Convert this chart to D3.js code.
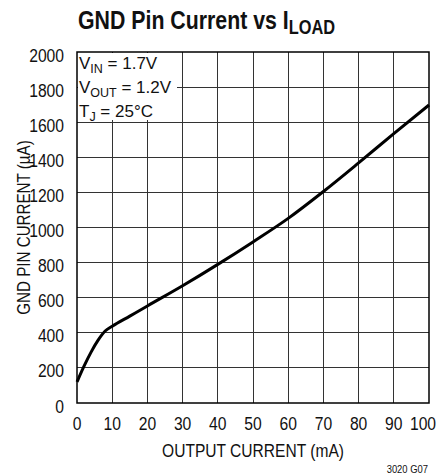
<!DOCTYPE html>
<html>
<head>
<meta charset="utf-8">
<script src="https://cdn.jsdelivr.net/npm/d3@7"></script>
<style>
  body { margin: 0; background: #fff; }
  text { font-family: "Liberation Sans", Arial, sans-serif; fill: #111; }
</style>
</head>
<body>
<div id="chart"></div>
<script>
// output current (mA) vs GND pin current (uA)
const loadCurrent = [0, 2, 4, 6, 8, 10, 15, 20, 30, 40, 50, 60, 70, 80, 90, 100];
const gndCurrent = [120, 210, 290, 358, 410, 437, 495, 553, 668, 790, 918, 1052, 1205, 1368, 1535, 1698];

const xTicks = [0, 10, 20, 30, 40, 50, 60, 70, 80, 90, 100];
const yTicks = [0, 200, 400, 600, 800, 1000, 1200, 1400, 1600, 1800, 2000];

const conditions = [
  ['V', 'IN', ' = 1.7V'],
  ['V', 'OUT', ' = 1.2V'],
  ['T', 'J', ' = 25°C']
];

const WIDTH = 445, HEIGHT = 475;
const LEFT = 77, RIGHT = 429, TOP = 52, BOTTOM = 403;
const NARROW = 0.82; // no narrow face installed, squeeze the regular one

const svg = d3.select('#chart').append('svg')
  .attr('width', WIDTH)
  .attr('height', HEIGHT);

const x = d3.scaleLinear().domain([0, 100]).range([LEFT, RIGHT]);
const y = d3.scaleLinear().domain([0, 2000]).range([BOTTOM, TOP]);

const label = (parent, px, py, size, anchor, rot, sx) => parent.append('text')
  .attr('transform', 'translate(' + px + ',' + py + ')' + (rot ? ' rotate(' + rot + ')' : '') + ' scale(' + (sx || NARROW) + ',1)')
  .attr('text-anchor', anchor || 'start')
  .attr('font-size', size);

// grid
const grid = svg.append('g').attr('class', 'grid')
  .attr('stroke', '#333').attr('stroke-width', 1).attr('shape-rendering', 'crispEdges');

grid.selectAll('.vline').data(xTicks.slice(1, -1)).enter()
  .append('line')
  .attr('x1', d => x(d)).attr('x2', d => x(d))
  .attr('y1', TOP).attr('y2', BOTTOM);

grid.selectAll('.hline').data(yTicks.slice(1, -1)).enter()
  .append('line')
  .attr('y1', d => y(d)).attr('y2', d => y(d))
  .attr('x1', LEFT).attr('x2', RIGHT);

// white box behind the test conditions
svg.append('rect')
  .attr('x', LEFT + 1).attr('y', TOP + 1)
  .attr('width', 99).attr('height', 67)
  .attr('fill', '#fff');

// frame
svg.append('rect')
  .attr('x', LEFT).attr('y', TOP)
  .attr('width', RIGHT - LEFT).attr('height', BOTTOM - TOP)
  .attr('fill', 'none').attr('stroke', '#000').attr('stroke-width', 1.5);

// curve
const line = d3.line()
  .x((d, i) => x(loadCurrent[i]))
  .y(d => y(d))
  .curve(d3.curveMonotoneX);

svg.append('path')
  .datum(gndCurrent)
  .attr('fill', 'none')
  .attr('stroke', '#000')
  .attr('stroke-width', 3)
  .attr('stroke-linejoin', 'round')
  .attr('d', line);

// tick labels (last one nudged left to stay near the frame)
const xLabels = svg.append('g');
xTicks.forEach((d, i) => {
  const last = i === xTicks.length - 1;
  label(xLabels, last ? x(d) - 6 : x(d), BOTTOM + 27, 18, 'middle', 0, 0.87).text(d);
});

const yLabels = svg.append('g');
yTicks.forEach(d => label(yLabels, LEFT - 13, y(d) + 9.5, 18, 'end', 0, 0.87).text(d));

// axis titles
label(svg, (LEFT + RIGHT) / 2, 457, 19, 'middle').text('OUTPUT CURRENT (mA)');
label(svg, 30, (TOP + BOTTOM) / 2, 18.5, 'middle', -90).text('GND PIN CURRENT (µA)');

// title
const title = label(svg, 78, 29, 26).attr('font-weight', 'bold');
title.append('tspan').text('GND Pin Current vs I');
title.append('tspan').attr('font-size', 20).attr('dy', 5).text('LOAD');

// test conditions
conditions.forEach((c, i) => {
  const t = label(svg, 79, 69 + i * 24, 17, 'start', 0, 1);
  t.append('tspan').text(c[0]);
  t.append('tspan').attr('font-size', 12.5).attr('dy', 4).text(c[1]);
  t.append('tspan').attr('dy', -4).text(c[2]);
});

// figure code
label(svg, 428, 473, 11.5, 'end').text('3020 G07');
</script>
</body>
</html>
